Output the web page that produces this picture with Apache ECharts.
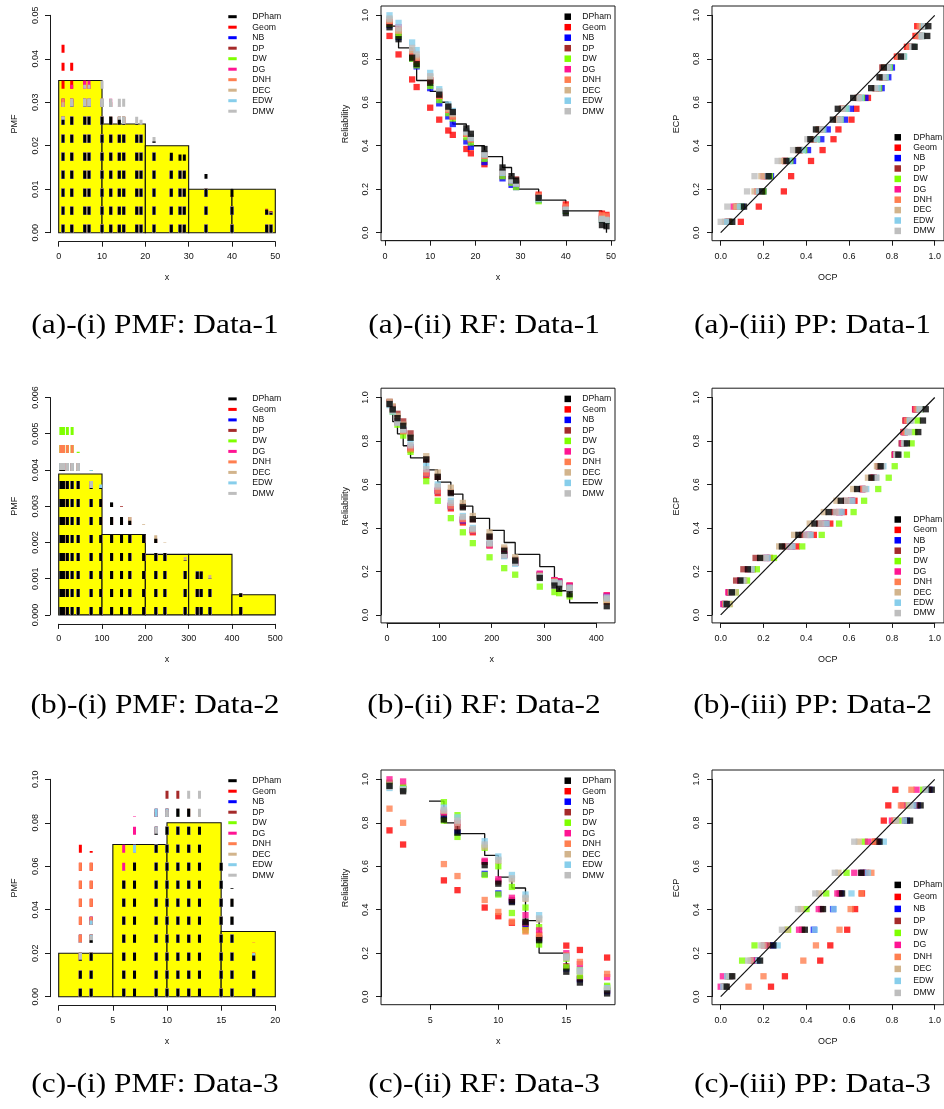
<!DOCTYPE html>
<html><head><meta charset="utf-8">
<script src="https://cdn.jsdelivr.net/npm/echarts@6/dist/echarts.min.js"></script>
<style>html,body{margin:0;padding:0;background:#fff}#c{width:944px;height:1109px}</style>
</head><body><div id="c"></div>
<script>
// ---------------- DATA ----------------
const SERIES = ['DPham','Geom','NB','DP','DW','DG','DNH','DEC','EDW','DMW'];
const COLORS = {DPham:'#000000',Geom:'#FF0000',NB:'#0000FF',DP:'#A52A2A',DW:'#7FFF00',DG:'#FF1493',DNH:'#FF7F50',DEC:'#D2B48C',EDW:'#87CEEB',DMW:'#BEBEBE'};
const captions = [
  ['(a)-(i) PMF: Data-1','(a)-(ii) RF: Data-1','(a)-(iii) PP: Data-1'],
  ['(b)-(i) PMF: Data-2','(b)-(ii) RF: Data-2','(b)-(iii) PP: Data-2'],
  ['(c)-(i) PMF: Data-3','(c)-(ii) RF: Data-3','(c)-(iii) PP: Data-3']
];

// observed values
const x1 = [1,3,6,7,10,12,14,15,18,19,22,26,28,29,34,40,48,49];
const x2 = [5,11,20,31,45,75,97,122,145,164,196,224,245,292,320,329,349,420];
const x3 = [2,3,6,7,9,10,11,12,13,15,16,18];

// histograms (bin edges + density)
const hist1Edges = [0,10,20,30,40,50];
const hist1Dens  = [0.035,0.025,0.02,0.01,0.01];
const hist2Edges = [0,100,200,300,400,500];
const hist2Dens  = [0.00389,0.00222,0.00167,0.00167,0.000556];
const hist3Edges = [0,5,10,15,20];
const hist3Dens  = [0.02,0.07,0.08,0.03];

// fitted PMF values at observed x
const pmf1 = {
  DPham:[0.026,0.029,0.029,0.029,0.028,0.027,0.026,0.025,0.025,0.024,0.021,0.0205,0.018,0.018,0.0135,0.010,0.0052,0.0046],
  Geom:[0.045,0.041,0.036,0.034,0.030,0.027,0.025,0.024,0.020,0.019,0.017,0.014,0.0125,0.012,0.0095,0.007,0.0045,0.0043],
  NB:[0.033,0.032,0.031,0.030,0.028,0.027,0.025,0.024,0.022,0.021,0.019,0.016,0.015,0.014,0.011,0.008,0.005,0.0048],
  DP:[0.030,0.032,0.032,0.031,0.030,0.029,0.028,0.027,0.024,0.023,0.020,0.017,0.0155,0.015,0.012,0.0085,0.0055,0.005],
  DW:[0.031,0.032,0.032,0.031,0.030,0.029,0.028,0.027,0.024,0.023,0.020,0.017,0.015,0.0145,0.011,0.008,0.005,0.0046],
  DG:[0.032,0.034,0.036,0.036,0.033,0.031,0.029,0.028,0.025,0.024,0.021,0.017,0.0155,0.015,0.0115,0.008,0.005,0.0046],
  DNH:[0.033,0.033,0.033,0.033,0.032,0.030,0.028,0.027,0.024,0.023,0.020,0.017,0.0155,0.015,0.0115,0.008,0.005,0.0046],
  DEC:[0.030,0.032,0.033,0.033,0.032,0.030,0.029,0.028,0.025,0.024,0.021,0.017,0.0155,0.015,0.0115,0.008,0.005,0.0046],
  EDW:[0.029,0.030,0.031,0.031,0.031,0.030,0.029,0.028,0.025,0.024,0.021,0.018,0.016,0.015,0.0115,0.008,0.005,0.0046],
  DMW:[0.029,0.033,0.034,0.034,0.036,0.033,0.033,0.032,0.028,0.026,0.022,0.018,0.016,0.015,0.0115,0.008,0.005,0.0046]
};
const pmf2 = {
  DPham:[0.0040,0.0040,0.0039,0.0039,0.0039,0.0035,0.0035,0.0031,0.0028,0.0026,0.0024,0.0021,0.0019,0.0015,0.0012,0.0012,0.0010,0.0006],
  Geom:[0.0044,0.0044,0.0043,0.0042,0.0040,0.0036,0.0033,0.0029,0.0026,0.0024,0.0021,0.0018,0.0016,0.0013,0.0011,0.0011,0.0010,0.0006],
  NB:[0.0044,0.0044,0.0043,0.0042,0.0040,0.0036,0.0033,0.0029,0.0026,0.0024,0.0021,0.0018,0.0016,0.0013,0.0011,0.0011,0.0010,0.0006],
  DP:[0.0040,0.0040,0.0040,0.0040,0.0040,0.0037,0.0034,0.0031,0.0030,0.0027,0.0024,0.0021,0.0019,0.0015,0.0012,0.0012,0.0010,0.0005],
  DW:[0.0054,0.0054,0.0054,0.0053,0.0045,0.0040,0.0033,0.0027,0.0022,0.0019,0.0015,0.0012,0.0010,0.0007,0.0006,0.0005,0.0005,0.0003],
  DG:[0.0044,0.0044,0.0044,0.0044,0.0044,0.0037,0.0034,0.0030,0.0027,0.0025,0.0022,0.0019,0.0017,0.0014,0.0012,0.0011,0.0010,0.0006],
  DNH:[0.0049,0.0049,0.0048,0.0047,0.0044,0.0037,0.0033,0.0029,0.0026,0.0024,0.0021,0.0018,0.0016,0.0013,0.0011,0.0011,0.0010,0.0006],
  DEC:[0.0044,0.0044,0.0043,0.0042,0.0041,0.0037,0.0035,0.0031,0.0029,0.0027,0.0025,0.0022,0.0020,0.0016,0.0013,0.0012,0.0011,0.0006],
  EDW:[0.0044,0.0044,0.0044,0.0044,0.0044,0.0040,0.0036,0.0031,0.0027,0.0025,0.0022,0.0019,0.0017,0.0014,0.0012,0.0011,0.0010,0.0006],
  DMW:[0.0044,0.0044,0.0044,0.0044,0.0043,0.0038,0.0035,0.0031,0.0027,0.0025,0.0022,0.0019,0.0017,0.0014,0.0012,0.0011,0.0010,0.0006]
};
const pmf3 = {
  DPham:[0.017,0.026,0.055,0.062,0.075,0.080,0.088,0.088,0.080,0.066,0.050,0.019],
  Geom:[0.072,0.067,0.056,0.052,0.046,0.043,0.040,0.037,0.034,0.029,0.027,0.023],
  NB:[0.030,0.038,0.058,0.065,0.091,0.088,0.080,0.075,0.065,0.045,0.035,0.018],
  DP:[0.020,0.030,0.055,0.065,0.085,0.098,0.098,0.090,0.078,0.050,0.035,0.015],
  DW:[0.030,0.035,0.055,0.062,0.090,0.091,0.085,0.078,0.070,0.050,0.040,0.020],
  DG:[0.033,0.040,0.072,0.083,0.088,0.088,0.080,0.075,0.066,0.048,0.040,0.022],
  DNH:[0.066,0.065,0.050,0.048,0.044,0.041,0.038,0.036,0.034,0.030,0.028,0.025],
  DEC:[0.020,0.028,0.052,0.060,0.075,0.085,0.090,0.090,0.085,0.060,0.045,0.020],
  EDW:[0.025,0.035,0.058,0.074,0.088,0.090,0.087,0.083,0.075,0.055,0.042,0.020],
  DMW:[0.020,0.028,0.050,0.058,0.078,0.086,0.090,0.096,0.097,0.066,0.048,0.018]
};

// empirical reliability (step) at observed x
const step1 = [0.95,0.85,0.80,0.70,0.65,0.60,0.55,0.50,0.45,0.40,0.35,0.30,0.25,0.20,0.15,0.10,0.05,0.00];
const step2 = [0.944,0.889,0.833,0.778,0.722,0.667,0.611,0.556,0.5,0.444,0.389,0.333,0.278,0.222,0.167,0.111,0.056,0.0];
const step3 = [0.95,0.90,0.80,0.75,0.65,0.55,0.50,0.35,0.20,0.15,0.05,0.0];

// fitted reliability at observed x
const rf1 = {
  DPham:[0.945,0.89,0.805,0.775,0.69,0.635,0.58,0.555,0.48,0.455,0.385,0.30,0.26,0.24,0.16,0.09,0.035,0.03],
  Geom:[0.905,0.82,0.705,0.67,0.575,0.52,0.47,0.45,0.385,0.365,0.315,0.26,0.235,0.222,0.175,0.13,0.088,0.082],
  NB:[0.955,0.90,0.80,0.765,0.665,0.595,0.535,0.50,0.42,0.395,0.325,0.25,0.22,0.21,0.15,0.10,0.06,0.055],
  DP:[0.96,0.92,0.81,0.785,0.70,0.625,0.565,0.54,0.455,0.43,0.36,0.275,0.245,0.245,0.165,0.11,0.065,0.06],
  DW:[0.96,0.905,0.80,0.77,0.675,0.61,0.55,0.525,0.44,0.415,0.34,0.26,0.23,0.21,0.145,0.10,0.06,0.055],
  DG:[0.97,0.945,0.83,0.80,0.70,0.63,0.565,0.535,0.455,0.43,0.355,0.275,0.24,0.225,0.165,0.115,0.075,0.07],
  DNH:[0.965,0.93,0.825,0.795,0.70,0.63,0.565,0.535,0.455,0.43,0.355,0.275,0.245,0.23,0.17,0.12,0.08,0.075],
  DEC:[0.98,0.93,0.84,0.81,0.715,0.645,0.57,0.545,0.46,0.435,0.36,0.275,0.245,0.23,0.16,0.105,0.065,0.06],
  EDW:[1.0,0.965,0.875,0.84,0.735,0.66,0.59,0.56,0.465,0.435,0.36,0.275,0.24,0.225,0.155,0.105,0.06,0.055],
  DMW:[0.985,0.94,0.85,0.82,0.72,0.65,0.58,0.55,0.465,0.44,0.365,0.28,0.245,0.23,0.16,0.105,0.062,0.058]
};
const rf2 = {
  DPham:[0.97,0.945,0.905,0.87,0.815,0.715,0.635,0.56,0.495,0.44,0.36,0.295,0.25,0.17,0.135,0.12,0.095,0.04],
  Geom:[0.975,0.95,0.89,0.845,0.76,0.64,0.56,0.49,0.425,0.38,0.32,0.275,0.24,0.185,0.155,0.15,0.135,0.09],
  NB:[0.975,0.95,0.89,0.85,0.77,0.65,0.57,0.50,0.435,0.39,0.325,0.275,0.24,0.185,0.155,0.15,0.13,0.085],
  DP:[0.98,0.955,0.925,0.89,0.835,0.715,0.635,0.565,0.50,0.44,0.36,0.30,0.255,0.18,0.16,0.155,0.13,0.08],
  DW:[0.975,0.935,0.875,0.825,0.75,0.615,0.525,0.445,0.38,0.33,0.265,0.215,0.185,0.13,0.105,0.10,0.085,0.07],
  DG:[0.975,0.95,0.89,0.85,0.77,0.655,0.575,0.505,0.44,0.39,0.32,0.28,0.245,0.19,0.16,0.155,0.135,0.09],
  DNH:[0.97,0.945,0.885,0.845,0.765,0.65,0.57,0.50,0.44,0.39,0.325,0.275,0.24,0.18,0.155,0.145,0.125,0.06],
  DEC:[0.98,0.96,0.915,0.875,0.815,0.73,0.655,0.585,0.515,0.455,0.38,0.31,0.265,0.18,0.15,0.14,0.12,0.07],
  EDW:[0.965,0.935,0.885,0.855,0.79,0.685,0.60,0.525,0.455,0.40,0.33,0.27,0.235,0.175,0.15,0.145,0.125,0.08],
  DMW:[0.97,0.94,0.885,0.85,0.78,0.67,0.59,0.515,0.45,0.395,0.33,0.275,0.24,0.175,0.15,0.14,0.12,0.075]
};
const rf3 = {
  DPham:[0.97,0.945,0.815,0.755,0.605,0.52,0.435,0.345,0.26,0.115,0.065,0.015],
  Geom:[0.765,0.70,0.535,0.49,0.41,0.37,0.34,0.32,0.285,0.235,0.215,0.18],
  NB:[0.975,0.955,0.83,0.755,0.565,0.475,0.44,0.335,0.265,0.13,0.08,0.025],
  DP:[0.98,0.96,0.845,0.78,0.62,0.53,0.445,0.34,0.27,0.14,0.085,0.03],
  DW:[0.985,0.965,0.895,0.835,0.685,0.60,0.505,0.41,0.32,0.175,0.125,0.05],
  DG:[1.0,0.99,0.85,0.80,0.625,0.54,0.455,0.375,0.305,0.20,0.15,0.09],
  DNH:[0.865,0.80,0.61,0.555,0.445,0.39,0.345,0.30,0.28,0.19,0.16,0.105],
  DEC:[0.975,0.95,0.855,0.80,0.69,0.625,0.54,0.45,0.355,0.18,0.12,0.04],
  EDW:[0.96,0.955,0.87,0.825,0.715,0.645,0.56,0.47,0.375,0.185,0.12,0.04],
  DMW:[0.965,0.95,0.86,0.81,0.70,0.63,0.545,0.455,0.36,0.18,0.115,0.035]
};
// second set of green (DW) squares visible in (c)-(ii)
const rf3DWextra = [0.97,0.955,0.81,0.735,0.56,0.47,0.385,0.305,0.24,0.135,0.095,0.045];

// PP plots: empirical CP levels and fitted CP (OCP) per distribution
const ecp1 = [0.05,0.12,0.19,0.26,0.33,0.38,0.43,0.475,0.52,0.57,0.62,0.665,0.715,0.76,0.81,0.855,0.905,0.95];
const pp1 = {
  DPham:[0.054,0.109,0.194,0.224,0.307,0.363,0.419,0.445,0.524,0.547,0.619,0.703,0.742,0.762,0.842,0.906,0.965,0.97],
  Geom:[0.094,0.178,0.295,0.329,0.422,0.476,0.527,0.55,0.611,0.634,0.688,0.74,0.765,0.778,0.823,0.87,0.91,0.918],
  NB:[0.04,0.10,0.20,0.235,0.338,0.408,0.47,0.50,0.58,0.608,0.676,0.752,0.783,0.80,0.85,0.895,0.94,0.945],
  DP:[0.035,0.08,0.19,0.215,0.30,0.37,0.43,0.46,0.545,0.57,0.64,0.725,0.755,0.755,0.835,0.885,0.93,0.94],
  DW:[0.04,0.095,0.20,0.23,0.325,0.39,0.45,0.475,0.56,0.585,0.66,0.74,0.77,0.79,0.855,0.90,0.94,0.945],
  DG:[0.03,0.06,0.17,0.20,0.30,0.37,0.435,0.465,0.545,0.57,0.645,0.725,0.76,0.775,0.835,0.885,0.925,0.935],
  DNH:[0.035,0.07,0.175,0.205,0.30,0.37,0.435,0.465,0.545,0.57,0.645,0.725,0.755,0.77,0.83,0.88,0.92,0.93],
  DEC:[0.02,0.075,0.158,0.19,0.285,0.355,0.43,0.455,0.54,0.565,0.64,0.725,0.755,0.77,0.84,0.895,0.935,0.94],
  EDW:[0.03,0.09,0.18,0.22,0.32,0.385,0.45,0.48,0.56,0.59,0.655,0.735,0.77,0.785,0.857,0.90,0.94,0.95],
  DMW:[0.0,0.031,0.123,0.158,0.266,0.338,0.405,0.47,0.555,0.57,0.645,0.72,0.76,0.78,0.85,0.895,0.945,0.955]
};
const ecp2 = [0.05,0.104,0.158,0.21,0.262,0.315,0.368,0.42,0.473,0.525,0.579,0.631,0.684,0.737,0.789,0.841,0.894,0.946];
const pp2 = {
  DPham:[0.028,0.052,0.092,0.127,0.184,0.286,0.363,0.438,0.504,0.561,0.637,0.704,0.747,0.83,0.87,0.923,0.945,0.958],
  Geom:[0.02,0.045,0.105,0.15,0.23,0.355,0.435,0.512,0.576,0.625,0.665,0.715,0.74,0.813,0.855,0.86,0.863,0.908],
  NB:[0.015,0.04,0.10,0.14,0.215,0.33,0.41,0.49,0.555,0.61,0.66,0.71,0.74,0.815,0.85,0.86,0.87,0.915],
  DP:[0.02,0.04,0.072,0.106,0.163,0.30,0.38,0.46,0.53,0.585,0.66,0.71,0.735,0.813,0.845,0.853,0.865,0.91],
  DW:[0.04,0.07,0.123,0.169,0.249,0.381,0.472,0.553,0.621,0.67,0.736,0.785,0.813,0.87,0.892,0.905,0.92,0.935],
  DG:[0.012,0.035,0.09,0.13,0.21,0.33,0.41,0.49,0.555,0.61,0.665,0.715,0.745,0.815,0.85,0.857,0.868,0.91],
  DNH:[0.02,0.045,0.095,0.135,0.215,0.335,0.415,0.49,0.555,0.61,0.665,0.715,0.745,0.82,0.855,0.86,0.87,0.915],
  DEC:[0.043,0.069,0.11,0.14,0.19,0.273,0.343,0.416,0.482,0.541,0.619,0.688,0.73,0.825,0.86,0.87,0.88,0.925],
  EDW:[0.025,0.05,0.10,0.145,0.22,0.335,0.42,0.495,0.565,0.615,0.68,0.725,0.76,0.825,0.86,0.875,0.885,0.93],
  DMW:[0.03,0.055,0.105,0.14,0.21,0.32,0.40,0.47,0.54,0.59,0.674,0.728,0.755,0.82,0.858,0.88,0.89,0.935]
};
const ecp3 = [0.046,0.094,0.166,0.236,0.308,0.403,0.475,0.57,0.713,0.81,0.88,0.952];
const pp3 = {
  DPham:[0.028,0.054,0.184,0.246,0.393,0.478,0.567,0.656,0.742,0.885,0.934,0.986],
  Geom:[0.235,0.30,0.465,0.512,0.591,0.628,0.66,0.68,0.719,0.762,0.783,0.816],
  NB:[0.02,0.045,0.169,0.245,0.435,0.525,0.56,0.665,0.735,0.87,0.92,0.975],
  DP:[0.02,0.04,0.155,0.22,0.38,0.47,0.555,0.66,0.73,0.86,0.915,0.97],
  DW:[0.015,0.035,0.10,0.158,0.315,0.401,0.493,0.588,0.673,0.83,0.87,0.946],
  DG:[0.0,0.01,0.15,0.203,0.366,0.458,0.545,0.624,0.688,0.80,0.85,0.915],
  DNH:[0.13,0.20,0.386,0.445,0.555,0.607,0.657,0.704,0.72,0.81,0.842,0.891],
  DEC:[0.025,0.05,0.14,0.20,0.31,0.375,0.46,0.55,0.645,0.82,0.88,0.96],
  EDW:[0.012,0.03,0.175,0.266,0.44,0.528,0.611,0.688,0.762,0.862,0.90,0.96],
  DMW:[0.02,0.04,0.128,0.19,0.286,0.361,0.442,0.533,0.624,0.82,0.885,0.955]
};
const diagX = [0,1];
const diagY = [0,1];

// ---------------- LAYOUT / BUILD ----------------
const FONT = "'Liberation Sans', Arial, Helvetica, sans-serif";
const AX = '#1a1a1a';
const ro = [0, 382.2, 764];
const grid = [], xAxis = [], yAxis = [], series = [], legend = [], graphic = [];
const DRAW_ORDER = SERIES.slice(1).concat(['DPham']);

function mkAxis(dim, o){
  return {
    type:'value', gridIndex:o.gi, min:o.min, max:o.max, interval:o.interval,
    position: dim==='x' ? 'bottom' : 'left', offset:o.offset,
    axisLine:{show:true, onZero:false, lineStyle:{color:AX, width:1}},
    axisTick:{show:true, length:5, lineStyle:{color:AX, width:1}},
    axisLabel:{show:true, color:'#111', fontSize:9, fontFamily:FONT, margin:o.margin,
      rotate: dim==='y' ? 90 : 0, formatter:o.fmt, showMinLabel:true, showMaxLabel:true, hideOverlap:false},
    splitLine:{show:false},
    name:o.name, nameLocation:'middle', nameGap:o.nameGap, nameRotate: dim==='y' ? 90 : 0,
    nameTextStyle:{color:'#111', fontSize:9, fontFamily:FONT},
    silent:true
  };
}
function addPanel(p){
  if (p.frame){
    const fi = grid.length;
    grid.push({left:p.frame[0], top:p.frame[1], width:p.frame[2]-p.frame[0], height:p.frame[3]-p.frame[1],
      show:true, borderColor:AX, borderWidth:1, backgroundColor:'rgba(0,0,0,0)', containLabel:false});
    xAxis.push({type:'value', gridIndex:fi, show:false, min:0, max:1, splitLine:{show:false}});
    yAxis.push({type:'value', gridIndex:fi, show:false, min:0, max:1, splitLine:{show:false}});
  }
  const gi = grid.length;
  grid.push({left:p.gx[0], top:p.gy[0], width:p.gx[1]-p.gx[0], height:p.gy[1]-p.gy[0], show:false, containLabel:false});
  xAxis.push(mkAxis('x', {gi, min:p.xr[0], max:p.xr[1], interval:p.xr[2], offset:p.xOff, margin:p.xMargin, fmt:p.xFmt, name:p.xName, nameGap:p.xNameGap}));
  yAxis.push(mkAxis('y', {gi, min:p.yr[0], max:p.yr[1], interval:p.yr[2], offset:p.yOff, margin:p.yMargin, fmt:p.yFmt, name:p.yName, nameGap:p.yNameGap}));
  return gi;
}
function addLegend(o){
  legend.push({orient:'vertical', left:o.left, top:o.top, padding:0, itemGap:o.gap, itemWidth:o.w, itemHeight:o.h,
    icon:'rect', selectedMode:false, data:SERIES.slice(),
    textStyle:{color:'#111', fontSize:8.7, fontFamily:FONT, lineHeight:o.lh, padding:[0,0,0,o.pad]}});
}
const intFmt = v => String(Math.round(v));
const decFmt = d => (v => v.toFixed(d));

function pmfPanel(row, xs, edges, dens, vals, xr, yr, yDec){
  const r = ro[row];
  const gi = addPanel({frame:null, gx:[58.7,275.3], gy:[15.3+r,232.7+r], xr, yr, xOff:9, yOff:8.7,
    xMargin:10, yMargin:10, xFmt:intFmt, yFmt:decFmt(yDec), xName:'x', yName:'PMF', xNameGap:31, yNameGap:31});
  series.push({type:'custom', xAxisIndex:gi, yAxisIndex:gi, silent:true, z:1, encode:{x:[0,1], y:2},
    data: dens.map((d,i)=>[edges[i], edges[i+1], d]),
    renderItem:(params, api)=>{
      const a = api.coord([api.value(0), api.value(2)]);
      const b = api.coord([api.value(1), 0]);
      return {type:'rect', shape:{x:a[0], y:a[1], width:b[0]-a[0], height:b[1]-a[1]},
        style:{fill:'#FFFF00', stroke:'#111', lineWidth:1.1}};
    }});
  DRAW_ORDER.forEach(name=>{
    const col = COLORS[name];
    series.push({type:'custom', name, xAxisIndex:gi, yAxisIndex:gi, silent:true, z: name==='DPham'?3:2,
      encode:{x:0, y:1}, itemStyle:{color:col},
      data: xs.map((x,i)=>[x, vals[name][i]]),
      renderItem:(params, api)=>{
        const a = api.coord([api.value(0), 0]);
        const b = api.coord([api.value(0), api.value(1)]);
        return {type:'line', shape:{x1:a[0], y1:a[1], x2:b[0], y2:b[1]},
          style:{stroke:col, lineWidth:3, lineDash:[8,10], lineCap:'butt'}};
      }});
  });
  addLegend({left:228.3, top:11.5+r, gap:0.1, w:8.4, h:3, lh:10.4, pad:10.6});
}

function rfPanel(row, xs, step, vals, gx, xr, extraDW){
  const r = ro[row];
  const gi = addPanel({frame:[381, 6+r, 615, 240.7+r], gx, gy:[15.3+r,232.7+r], xr, yr:[0,1,0.2],
    xOff:8, yOff:gx[0]-381, xMargin:11, yMargin:11, xFmt:intFmt, yFmt:decFmt(1),
    xName:'x', yName:'Reliability', xNameGap:32, yNameGap:31});
  series.push({type:'line', step:'end', xAxisIndex:gi, yAxisIndex:gi, silent:true, z:2, clip:false,
    symbol:'none', lineStyle:{color:'#111', width:1.3}, data: xs.map((x,i)=>[x, step[i]])});
  DRAW_ORDER.forEach(name=>{
    series.push({type:'scatter', name, xAxisIndex:gi, yAxisIndex:gi, silent:true, clip:false,
      z: name==='DPham'?4:3, symbol:'rect', symbolSize:6.3, itemStyle:{color:COLORS[name]},
      data: xs.map((x,i)=>[x, vals[name][i]])});
    if (name==='DW' && extraDW){
      series.push({type:'scatter', name:'DW', xAxisIndex:gi, yAxisIndex:gi, silent:true, clip:false,
        z:3, symbol:'rect', symbolSize:6.3, itemStyle:{color:COLORS.DW},
        data: xs.map((x,i)=>[x, extraDW[i]])});
    }
  });
  addLegend({left:564.5, top:11.5+r, gap:0.1, w:6.5, h:6.5, lh:10.4, pad:6.3});
}

function ppPanel(row, ecp, vals, legTop, legPitch){
  const r = ro[row];
  const gi = addPanel({frame:[712, 6+r, 946.4, 240.7+r], gx:[720.7,937.7], gy:[15.3+r,232.7+r],
    xr:[0,1,0.2], yr:[0,1,0.2], xOff:8, yOff:8.7, xMargin:11, yMargin:11,
    xFmt:decFmt(1), yFmt:decFmt(1), xName:'OCP', yName:'ECP', xNameGap:32, yNameGap:31});
  DRAW_ORDER.forEach(name=>{
    series.push({type:'scatter', name, xAxisIndex:gi, yAxisIndex:gi, silent:true, clip:false,
      z: name==='DPham'?4:3, symbol:'rect', symbolSize:6.3, itemStyle:{color:COLORS[name]},
      data: vals[name].map((v,i)=>[v, ecp[i]])});
  });
  series.push({type:'line', xAxisIndex:gi, yAxisIndex:gi, silent:true, z:5, symbol:'none',
    lineStyle:{color:'#111', width:1.2}, data: diagX.map((x,i)=>[x, diagY[i]])});
  addLegend({left:894.5, top:legTop - legPitch/2, gap:legPitch-10.4, w:6.5, h:6.5, lh:10.4, pad:7.3});
}

pmfPanel(0, x1, hist1Edges, hist1Dens, pmf1, [0,50,10], [0,0.05,0.01], 2);
pmfPanel(1, x2, hist2Edges, hist2Dens, pmf2, [0,500,100], [0,0.006,0.001], 3);
pmfPanel(2, x3, hist3Edges, hist3Dens, pmf3, [0,20,5], [0,0.10,0.02], 2);

rfPanel(0, x1, step1, rf1, [385,611], [0,50,10], null);
rfPanel(1, x2, step2, rf2, [387,596.3], [0,400,100], null);
rfPanel(2, x3, step3, rf3, [430.3,566.3], [5,15,5], rf3DWextra);

ppPanel(0, ecp1, pp1, 137.3, 10.4);
ppPanel(1, ecp2, pp2, 137.3+ro[1], 10.4);
ppPanel(2, ecp3, pp3, 885.7, 12);

// captions
const capX = [155, 484, 812.5];
const capY = [325.8, 705.5, 1084.2];
captions.forEach((rowCaps, r)=>rowCaps.forEach((t, c)=>{
  graphic.push({type:'text', x:capX[c], y:capY[r], scaleX:1.12, silent:true,
    style:{text:t, fill:'#000', fontSize:28, fontFamily:"'Liberation Serif', 'Times New Roman', serif",
      align:'center', verticalAlign:'middle'}});
}));

const chart = echarts.init(document.getElementById('c'), null, {renderer:'canvas'});
chart.setOption({animation:false, backgroundColor:'#fff', grid, xAxis, yAxis, series, legend, graphic});
</script>
</body></html>
